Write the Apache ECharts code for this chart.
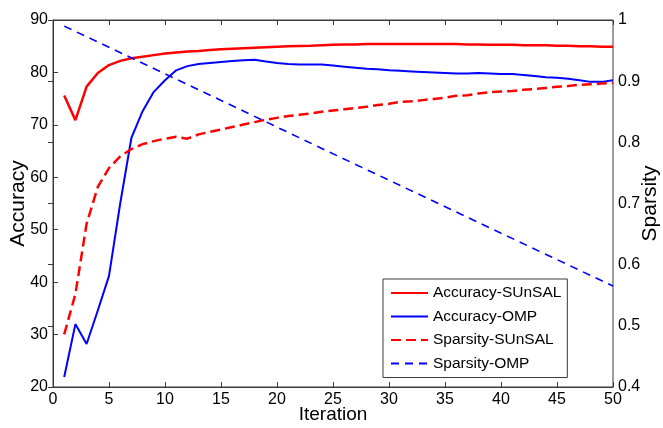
<!DOCTYPE html>
<html>
<head>
<meta charset="utf-8">
<script src="https://cdn.jsdelivr.net/npm/echarts@6/dist/echarts.min.js"></script>
<style>
  html, body { margin: 0; padding: 0; background: #fff; }
  #chart { width: 663px; height: 428px; }
</style>
</head>
<body>
<div id="chart"></div>
<script>
// accuracy / sparsity vs iteration

var iterations = [1, 2, 3, 4, 5, 6, 7, 8, 9, 10,
    11, 12, 13, 14, 15, 16, 17, 18, 19, 20,
    21, 22, 23, 24, 25, 26, 27, 28, 29, 30,
    31, 32, 33, 34, 35, 36, 37, 38, 39, 40,
    41, 42, 43, 44, 45, 46, 47, 48, 49, 50];

var accSunsal = [75.6, 70.9, 77.3, 79.9, 81.4, 82.2, 82.7, 83.0, 83.3, 83.6,
    83.8, 84.0, 84.1, 84.3, 84.4, 84.5, 84.6, 84.7, 84.8, 84.9,
    85.0, 85.05, 85.1, 85.2, 85.3, 85.35, 85.35, 85.4, 85.4, 85.4,
    85.4, 85.4, 85.4, 85.4, 85.4, 85.4, 85.35, 85.35, 85.3, 85.3,
    85.3, 85.2, 85.2, 85.2, 85.1, 85.1, 85.0, 85.0, 84.9, 84.9];

var accOmp = [21.9, 32.0, 28.2, 34.6, 41.2, 55.0, 67.5, 72.6, 76.3, 78.5,
    80.4, 81.2, 81.6, 81.8, 82.0, 82.2, 82.3, 82.4, 82.1, 81.8,
    81.6, 81.5, 81.5, 81.5, 81.3, 81.1, 80.9, 80.7, 80.6, 80.4,
    80.3, 80.2, 80.1, 80.0, 79.9, 79.8, 79.8, 79.9, 79.8, 79.7,
    79.7, 79.5, 79.3, 79.1, 79.0, 78.8, 78.5, 78.2, 78.2, 78.5];

var sparSunsal = [0.486, 0.552, 0.667, 0.727, 0.758, 0.777, 0.789, 0.797, 0.802, 0.806,
    0.809, 0.806, 0.813, 0.817, 0.821, 0.825, 0.829, 0.833, 0.837, 0.840,
    0.843, 0.845, 0.847, 0.850, 0.852, 0.854, 0.856, 0.858, 0.861, 0.863,
    0.866, 0.867, 0.869, 0.871, 0.873, 0.876, 0.877, 0.880, 0.882, 0.883,
    0.884, 0.886, 0.887, 0.889, 0.891, 0.892, 0.894, 0.895, 0.896, 0.897];

// straight line, read at a few iterations
var sparOmpIter = [1, 13, 24, 50];
var sparOmp = [0.99, 0.886, 0.790, 0.565];

var seriesNames = ['Accuracy-SUnSAL', 'Accuracy-OMP', 'Sparsity-SUnSAL', 'Sparsity-OMP'];

function pairs(xs, ys) {
    var out = [];
    for (var i = 0; i < ys.length; i++) {
        out.push([xs[i], ys[i]]);
    }
    return out;
}

var font = 'Liberation Sans, Arial, sans-serif';
var axisColor = '#3a3a3a';

var chart = echarts.init(document.getElementById('chart'), null, {renderer: 'canvas'});

var option = {
    animation: false,
    backgroundColor: '#fff',
    grid: {
        left: 53,
        right: 50,
        top: 20,
        bottom: 41,
        containLabel: false,
        outerBoundsMode: 'none',
        show: true,
        borderColor: axisColor,
        borderWidth: 1
    },
    legend: {
        orient: 'vertical',
        left: 383,
        top: 279,
        padding: [6, 6, 6, 7],
        itemWidth: 37,
        itemHeight: 14,
        itemGap: 7.5,
        borderColor: axisColor,
        borderWidth: 1,
        backgroundColor: '#fff',
        itemStyle: {opacity: 0},
        textStyle: {fontFamily: font, fontSize: 15.5, color: '#000'},
        data: seriesNames
    },
    xAxis: [{
        type: 'value',
        min: 0,
        max: 50,
        interval: 5,
        name: 'Iteration',
        nameLocation: 'middle',
        nameGap: 18,
        nameMoveOverlap: false,
        nameTextStyle: {fontFamily: font, fontSize: 19, color: '#000', verticalAlign: 'top'},
        splitLine: {show: false},
        axisLine: {lineStyle: {color: axisColor}},
        axisTick: {inside: true, length: 5, lineStyle: {color: axisColor}},
        axisLabel: {fontFamily: font, fontSize: 16, color: '#000', margin: 5}
    }, {
        type: 'value',
        position: 'top',
        min: 0,
        max: 50,
        interval: 5,
        splitLine: {show: false},
        axisLine: {lineStyle: {color: axisColor}},
        axisTick: {inside: true, length: 5, lineStyle: {color: axisColor}},
        axisLabel: {show: false}
    }],
    yAxis: [{
        type: 'value',
        min: 20,
        max: 90,
        interval: 10,
        name: 'Accuracy',
        nameLocation: 'middle',
        nameRotate: 90,
        nameGap: 24,
        nameMoveOverlap: false,
        nameTextStyle: {fontFamily: font, fontSize: 21, color: '#000'},
        splitLine: {show: false},
        axisLine: {show: true, lineStyle: {color: axisColor}},
        axisTick: {show: true, inside: true, length: 5, lineStyle: {color: axisColor}},
        axisLabel: {fontFamily: font, fontSize: 16, color: '#000', margin: 5}
    }, {
        type: 'value',
        position: 'right',
        min: 0.4,
        max: 1,
        interval: 0.1,
        name: 'Sparsity',
        nameLocation: 'middle',
        nameRotate: 90,
        nameGap: 27,
        nameMoveOverlap: false,
        nameTextStyle: {fontFamily: font, fontSize: 21, color: '#000'},
        splitLine: {show: false},
        axisLine: {show: true, lineStyle: {color: axisColor}},
        axisTick: {show: true, inside: true, length: 5, lineStyle: {color: axisColor}},
        axisLabel: {fontFamily: font, fontSize: 16, color: '#000', margin: 5}
    }],
    series: [
        {
            name: seriesNames[0],
            type: 'line',
            yAxisIndex: 0,
            showSymbol: false,
            symbol: 'none',
            color: '#ff0000',
            lineStyle: {width: 2.5, color: '#ff0000'},
            data: pairs(iterations, accSunsal)
        }, {
            name: seriesNames[1],
            type: 'line',
            yAxisIndex: 0,
            showSymbol: false,
            symbol: 'none',
            color: '#0000ff',
            lineStyle: {width: 2, color: '#0000ff'},
            data: pairs(iterations, accOmp)
        }, {
            name: seriesNames[2],
            type: 'line',
            yAxisIndex: 1,
            showSymbol: false,
            symbol: 'none',
            color: '#ff0000',
            lineStyle: {width: 2.5, color: '#ff0000', type: [10, 5]},
            data: pairs(iterations, sparSunsal)
        }, {
            name: seriesNames[3],
            type: 'line',
            yAxisIndex: 1,
            showSymbol: false,
            symbol: 'none',
            color: '#0000ff',
            lineStyle: {width: 1.6, color: '#0000ff', type: [8, 6]},
            data: pairs(sparOmpIter, sparOmp)
        }
    ]
};
chart.setOption(option);
</script>
</body>
</html>
